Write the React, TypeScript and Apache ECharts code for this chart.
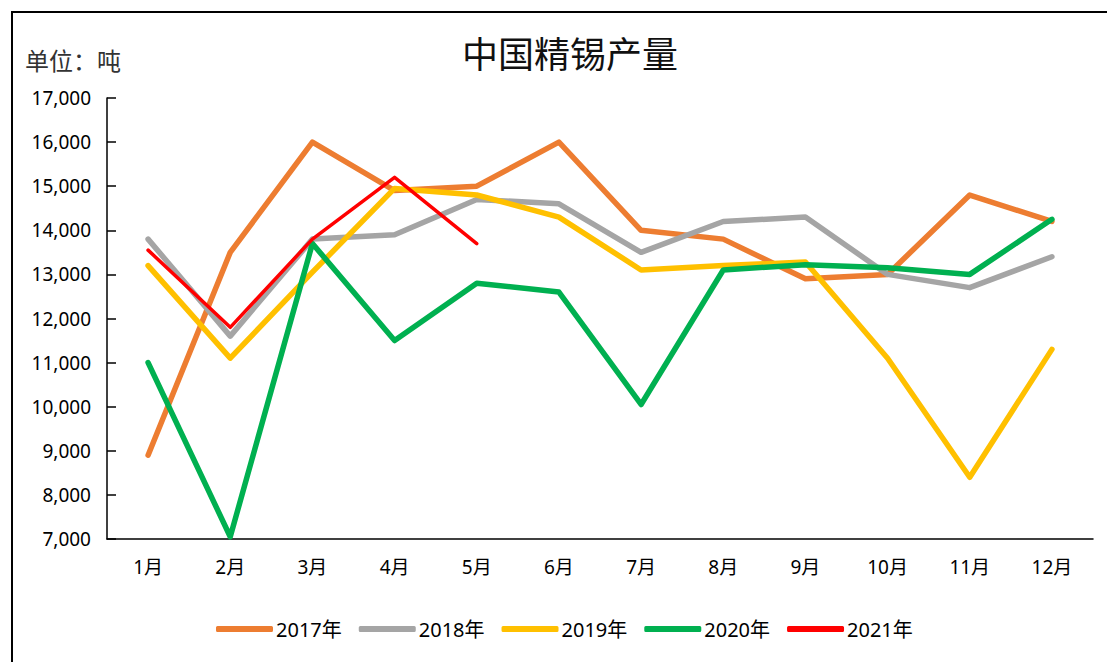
import React, { useEffect, useRef } from "react";
import * as echarts from "echarts";

const months = ["1月", "2月", "3月", "4月", "5月", "6月", "7月", "8月", "9月", "10月", "11月", "12月"];
const y2017 = [8900, 13500, 16000, 14900, 15000, 16000, 14000, 13800, 12900, 13000, 14800, 14200];
const y2018 = [13800, 11600, 13800, 13900, 14700, 14600, 13500, 14200, 14300, 13000, 12700, 13400];
const y2019 = [13200, 11100, 13050, 14950, 14800, 14300, 13100, 13200, 13280, 11100, 8400, 11300];
const y2020 = [11000, 7050, 13700, 11500, 12800, 12600, 10050, 13100, 13220, 13150, 13000, 14250];
const y2021 = [13550, 11800, 13800, 15200, 13700];

const seriesNames = ["2017年", "2018年", "2019年", "2020年", "2021年"];
const seriesColors = ["#ED7D31", "#A5A5A5", "#FFC000", "#00B050", "#FF0000"];
const seriesWidths = [5.5, 5.5, 5.5, 5.5, 3.5];

const FONT = "'Noto Sans', 'Noto Sans CJK SC', sans-serif";

export default function App() {
  const ref = useRef<HTMLDivElement>(null);
  useEffect(() => {
    document.body.style.margin = "0";
    const chart = echarts.init(ref.current!, null, { renderer: "svg" });
    const datas = [y2017, y2018, y2019, y2020, y2021];
    chart.setOption({
      animation: false,
      backgroundColor: "#fff",
      title: {
        text: "中国精锡产量",
        left: 565,
        textAlign: "center",
        top: 29,
        textStyle: { fontFamily: "'Noto Sans CJK SC', sans-serif", fontSize: 36, fontWeight: "normal", color: "#111" },
      },
      graphic: [
        {
          type: "rect",
          shape: { x: 12, y: 12, width: 1200, height: 700 },
          style: { fill: "none", stroke: "#000", lineWidth: 2 },
          silent: true,
        },
        {
          type: "text",
          left: 25,
          top: 47,
          style: { text: "单位：吨", font: "24px 'Noto Sans CJK SC', sans-serif", fill: "#333" },
        },
      ],
      legend: {
        left: 211,
        top: 614,
        itemWidth: 57,
        itemHeight: 6,
        itemGap: 17,
        textStyle: { fontFamily: FONT, fontSize: 20, color: "#000", padding: [0, 0, 0, -2] },
        data: seriesNames.map((n) => ({ name: n, icon: "roundRect" })),
      },
      grid: { left: 107, right: 14, top: 98, bottom: 123, containLabel: false },
      xAxis: {
        type: "category",
        data: months,
        boundaryGap: true,
        axisLine: { lineStyle: { color: "#000", width: 1.5 } },
        axisTick: { inside: true, length: 10, lineStyle: { color: "#000", width: 1.5 } },
        axisLabel: { color: "#000", fontFamily: FONT, fontSize: 19, margin: 18 },
      },
      yAxis: {
        type: "value",
        min: 7000,
        max: 17000,
        interval: 1000,
        splitLine: { show: false },
        axisLine: { show: true, lineStyle: { color: "#000", width: 1.5 } },
        axisTick: { show: true, inside: true, length: 9, lineStyle: { color: "#000", width: 1.5 } },
        axisLabel: {
          color: "#000",
          fontFamily: FONT,
          fontSize: 19,
          margin: 16,
          formatter: (v: number) => v.toLocaleString("en-US"),
        },
      },
      series: datas.map((d, i) => ({
        name: seriesNames[i],
        type: "line",
        data: d,
        symbol: "none",
        color: seriesColors[i],
        itemStyle: { color: seriesColors[i] },
        lineStyle: { color: seriesColors[i], width: seriesWidths[i], cap: "round", join: "round" },
      })),
    });
    return () => chart.dispose();
  }, []);
  return <div ref={ref} style={{ width: 1107, height: 662 }} />;
}
